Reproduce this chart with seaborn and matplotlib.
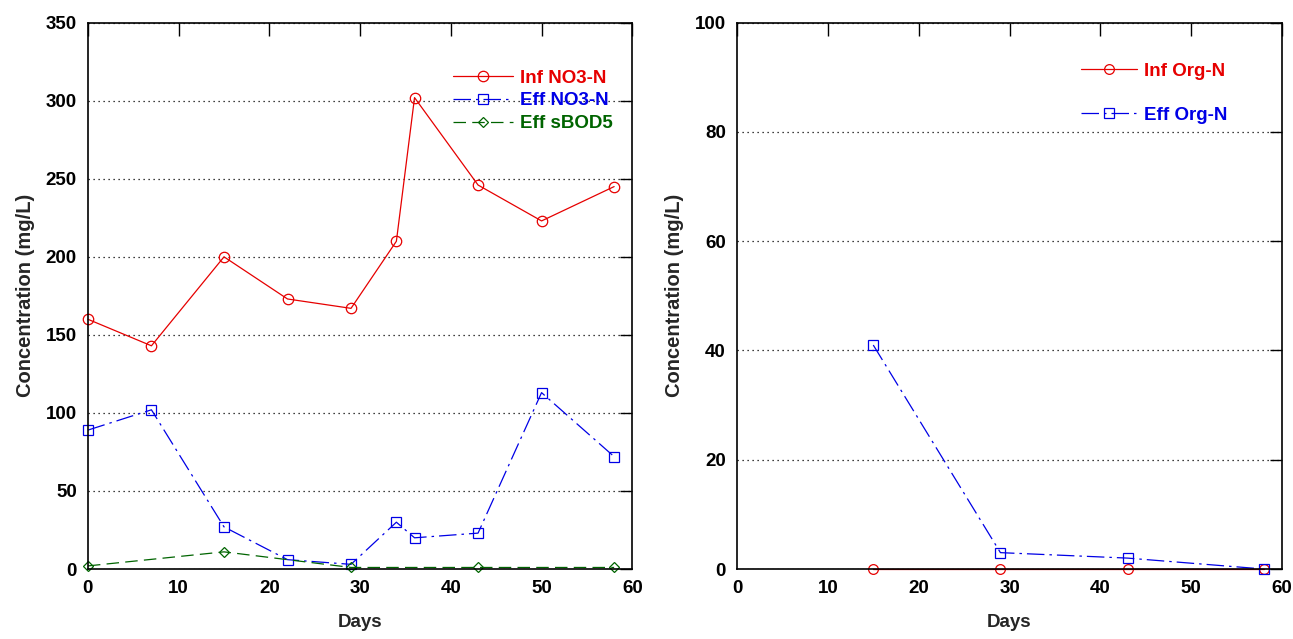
import matplotlib
matplotlib.use("Agg")
import matplotlib.pyplot as plt
import seaborn as sns

# left panel: nitrate and sBOD5
days_no3 = [0, 7, 15, 22, 29, 34, 36, 43, 50, 58]
inf_no3 = [160, 143, 200, 173, 167, 210, 302, 246, 223, 245]
eff_no3 = [89, 102, 27, 6, 3, 30, 20, 23, 113, 72]
days_bod = [0, 15, 29, 43, 58]
eff_sbod5 = [2, 11, 1, 1, 1]

# right panel: organic nitrogen
days_org = [15, 29, 43, 58]
inf_org = [0, 0, 0, 0]
eff_org = [41, 3, 2, 0]

RED = "#e60000"
BLUE = "#0000e6"
GREEN = "#006400"
DASHDOT = (0, (14, 4, 2, 4))
DASHED = (0, (10, 5))

sns.set_style("white")
plt.rcParams["font.family"] = ["Liberation Sans", "DejaVu Sans"]
plt.rcParams["font.weight"] = "bold"

fig = plt.figure(figsize=(12.93, 6.39), dpi=100)
ax1 = fig.add_axes([0.068, 0.1095, 0.421, 0.855])
ax2 = fig.add_axes([0.570, 0.1095, 0.4215, 0.855])


def series(ax, x, y, color, marker, ls, label, ms=7):
    sns.lineplot(x=x, y=y, ax=ax, color=color, marker=marker, linestyle=ls,
                 linewidth=0.9, markersize=ms, mfc="none", mec=color, mew=0.9,
                 label=label, clip_on=False, zorder=3)


series(ax1, days_no3, inf_no3, RED, "o", "-", "Inf NO3-N", 7.5)
series(ax1, days_no3, eff_no3, BLUE, "s", DASHDOT, "Eff NO3-N", 7.5)
series(ax1, days_bod, eff_sbod5, GREEN, "D", DASHED, "Eff sBOD5", 5.5)

series(ax2, days_org, inf_org, RED, "o", "-", "Inf Org-N", 7)
series(ax2, days_org, eff_org, BLUE, "s", DASHDOT, "Eff Org-N", 7)

for ax, ymax, step in [(ax1, 350, 50), (ax2, 100, 20)]:
    ax.set_xlim(0, 60)
    ax.set_ylim(0, ymax)
    ax.set_xticks(range(0, 61, 10))
    ax.set_yticks(range(0, ymax + 1, step))
    ax.yaxis.grid(True, linestyle=(0, (1, 3)), color="black", linewidth=0.9)
    ax.xaxis.grid(False)
    ax.tick_params(direction="in", top=True, right=True, length=9, width=1,
                   labelsize=13.5, pad=8, colors="black")
    for lab in ax.get_xticklabels() + ax.get_yticklabels():
        lab.set_fontweight("bold")
    for sp in ax.spines.values():
        sp.set_color("black")
        sp.set_linewidth(1.2)
        sp.set_zorder(3.5)
    ax.set_xlabel("Days", fontsize=13.5, fontweight="bold", labelpad=12)
    ax.set_ylabel("Concentration (mg/L)", fontsize=14.5, fontweight="bold", labelpad=8)

leg1 = ax1.legend(loc="upper left", bbox_to_anchor=(0.64, 0.945), frameon=False,
                  fontsize=13.5, handlelength=3.2, labelspacing=0.3, handletextpad=0.35)
for txt, c in zip(leg1.get_texts(), [RED, BLUE, GREEN]):
    txt.set_color(c)
    txt.set_fontweight("bold")

leg2 = ax2.legend(loc="upper left", bbox_to_anchor=(0.6, 0.958), frameon=False,
                  fontsize=13.5, handlelength=3.0, labelspacing=1.45, handletextpad=0.35)
for txt, c in zip(leg2.get_texts(), [RED, BLUE]):
    txt.set_color(c)
    txt.set_fontweight("bold")

fig.savefig("out.png", dpi=100)
